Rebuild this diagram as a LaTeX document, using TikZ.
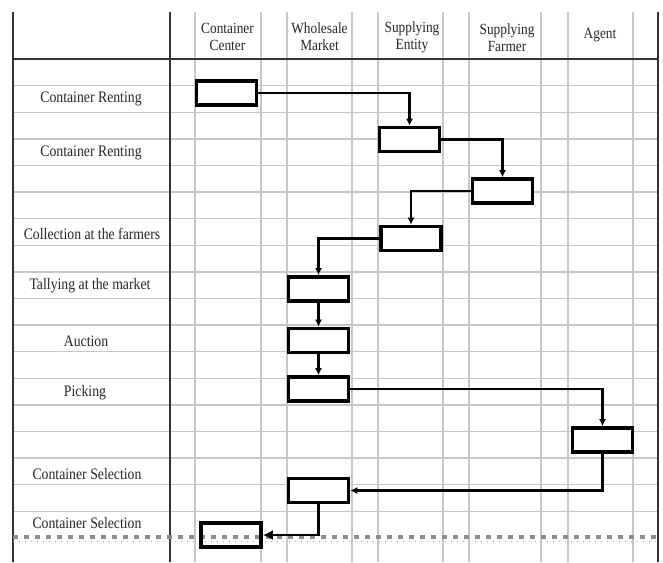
\documentclass[tikz,border=0pt]{standalone}
\usepackage{fontspec}
\setmainfont{Liberation Serif}
\newfontfamily\condfont[FakeStretch=0.86]{Liberation Serif}
\usetikzlibrary{arrows.meta}
\begin{document}
\begin{tikzpicture}[x=1pt,y=-1pt,
  gridline/.style={draw=black!22, line width=1.4pt},
  frameline/.style={draw=black!80, line width=1.8pt},
  stepbox/.style={draw=black, line width=3.6pt, fill=white, minimum width=60pt, minimum height=24pt, inner sep=0pt},
  flow/.style={draw=black, line width=2.1pt, -{Latex[length=7pt,width=7pt]}},
  bigflow/.style={draw=black, line width=2.2pt, -{Latex[length=10pt,width=10pt]}},
  lbl/.style={font=\condfont\fontsize{16}{18}\selectfont, text=black!85, inner sep=0pt},
  hdr/.style={font=\condfont\fontsize{15.5}{17}\selectfont, text=black!85, align=center, inner sep=0pt},
]
\useasboundingbox (0,0) rectangle (663,562);
\fill[white] (0,0) rectangle (663,562);
% grid
\foreach \k in {1,...,17} \draw[gridline] (13,{59+26.6*\k}) -- (658,{59+26.6*\k});
\foreach \x in {195,261,287,352,378,443,469,541,568,633} \draw[gridline] (\x,12) -- (\x,562);
% frame
\draw[frameline] (13,12) -- (13,562);
\draw[frameline] (170,12) -- (170,562);
\draw[frameline] (658,12) -- (658,562);
\draw[frameline] (13,59) -- (658,59);
% dotted line
\draw[draw=black!45, line width=3.2pt, dash pattern=on 5pt off 6pt] (13,537) -- (658,537);
\draw[draw=black!35, line width=0.6pt, dash pattern=on 1pt off 5pt] (13,541) -- (658,541);
% headers
\node[hdr] (h1) at (227.5,37) {Container\\Center};
\node[hdr] (h2) at (319.5,37) {Wholesale\\Market};
\node[hdr] (h3) at (412,37) {Supplying\\Entity};
\node[hdr] (h4) at (507,38) {Supplying\\Farmer};
\node[hdr] (h5) at (600,35) {Agent};
% row labels
\node[lbl] (l1) at (91,99) {Container Renting};
\node[lbl] (l2) at (91,153) {Container Renting};
\node[lbl] (l3) at (92,234) {Collection at the farmers};
\node[lbl] (l4) at (90,286) {Tallying at the market};
\node[lbl] (l5) at (86,341) {Auction};
\node[lbl] (l6) at (85,393) {Picking};
\node[lbl] (l7) at (87,474) {Container Selection};
\node[lbl] (l8) at (87,523) {Container Selection};
% boxes
\node[stepbox] (b1) at (226.5,93) {};
\node[stepbox] (b2) at (409.5,139.5) {};
\node[stepbox] (b3) at (502.5,191) {};
\node[stepbox] (b4) at (411,238.5) {};
\node[stepbox] (b5) at (318.5,289) {};
\node[stepbox] (b6) at (318.5,340.5) {};
\node[stepbox] (b7) at (318.5,389) {};
\node[stepbox] (b8) at (602.5,440) {};
\node[stepbox] (b9) at (318.5,490.5) {};
\node[stepbox, fill=none] (b10) at (231,535) {};
% connectors
\draw[flow] (b1) -| (b2);
\draw[flow] (b2) -| (b3);
\draw[flow] (b3) -| (b4);
\draw[flow] (b4) -| (b5);
\draw[flow] (b5) -- (b6);
\draw[flow] (b6) -- (b7);
\draw[flow] (b7) -| (b8);
\draw[flow] (b8) |- (b9);
\draw[bigflow] (b9) |- (b10);
\end{tikzpicture}
\end{document}
